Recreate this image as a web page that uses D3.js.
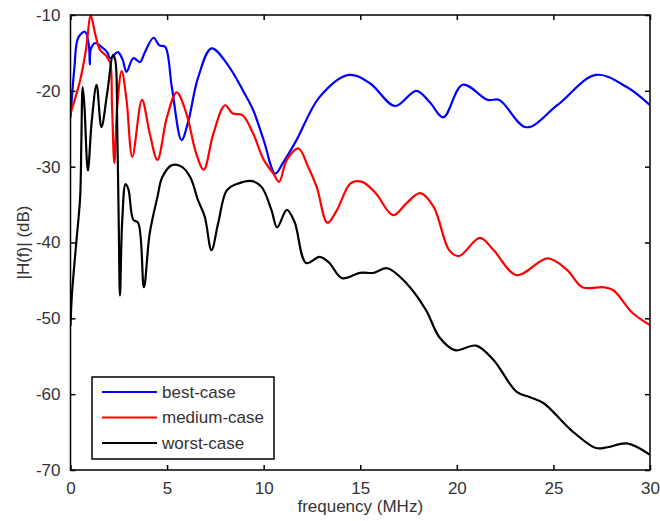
<!DOCTYPE html>
<meta charset="utf-8">
<style>
body {
  margin: 0;
  background: #fff;
}
text {
  font-family: "Liberation Sans", Arial, sans-serif;
  font-size: 17px;
  fill: #333;
}
.frame {
  fill: none;
  stroke: #000;
  stroke-width: 1.5;
}
.series {
  fill: none;
  stroke-width: 2.2;
  stroke-linejoin: round;
}
</style>
<body>
<script src="https://cdn.jsdelivr.net/npm/d3@7/dist/d3.min.js"></script>
<script>

var width = 660,
    height = 521;

// [frequency MHz, |H(f)| dB]
var bestCase = [
  [0, -23.5], [0.2, -17], [0.4, -13], [0.75, -12.2], [0.95, -14], [1.0, -16.5],
  [1.05, -14.5], [1.27, -13.7], [1.6, -14.2], [1.9, -14.9], [2.05, -15.7],
  [2.45, -14.9], [2.7, -15.9], [2.9, -17.5], [3.25, -15.7], [3.6, -16.2],
  [3.85, -14.9], [4.3, -13.0], [4.6, -14], [4.9, -14.2], [5.25, -19.6],
  [5.75, -26.5], [6.1, -24], [6.6, -18.3], [7.3, -14.4], [8.15, -16.6],
  [9.0, -20.3], [9.45, -22.5], [10.0, -26.5], [10.6, -30.9], [11.0, -29.5],
  [11.7, -26.5], [12.9, -20.8], [14.4, -17.9], [15.5, -19.0], [16.8, -22.0],
  [17.9, -20.0], [18.6, -21.5], [19.3, -23.5], [20.3, -19.2], [21.6, -21.2],
  [22.2, -21.2], [23.6, -24.8], [25.2, -21.9], [27.2, -17.9], [28.8, -19.5],
  [30, -21.9]
];

var mediumCase = [
  [0, -23], [0.5, -18.6], [0.8, -14.6], [1.05, -10.1], [1.27, -12.4],
  [1.53, -14.6], [1.85, -15.4], [2.05, -16.3], [2.15, -22], [2.27, -29.5],
  [2.42, -22], [2.65, -17.4], [2.9, -21.2], [3.2, -28.7], [3.7, -21.2],
  [4.1, -25.6], [4.5, -29.1], [5.0, -23.4], [5.5, -20.2], [6.0, -23],
  [6.5, -28.2], [6.9, -30.4], [7.4, -25.6], [8.0, -21.9], [8.4, -23],
  [8.9, -23.2], [9.45, -25.6], [10.0, -29.1], [10.5, -30.9], [10.8, -32],
  [11.2, -29.1], [11.8, -27.6], [12.3, -30], [12.75, -32.7], [13.3, -37.4],
  [13.8, -35.7], [14.5, -32.2], [15.1, -32], [15.8, -33.5], [16.7, -36.4],
  [17.4, -34.8], [18.1, -33.5], [18.8, -35.3], [19.6, -41], [20.1, -41.8],
  [21.2, -39.4], [21.9, -41], [23.1, -44.3], [24.7, -42.1], [25.7, -43.6],
  [26.5, -45.9], [27.6, -45.9], [28.1, -46.3], [29.1, -49.3], [30, -50.9]
];

var worstCase = [
  [0, -51], [0.07, -47], [0.3, -40], [0.5, -34], [0.56, -27], [0.63, -19.5],
  [0.72, -22], [0.9, -30.5], [1.1, -24], [1.35, -19.2], [1.6, -24.8],
  [1.9, -20.3], [2.2, -15.3], [2.32, -16], [2.42, -25], [2.5, -38],
  [2.56, -47], [2.68, -37], [2.85, -32.3], [3.0, -33], [3.25, -37],
  [3.5, -37.4], [3.8, -45.9], [4.1, -38.8], [4.5, -34], [4.75, -31.4],
  [5.25, -29.8], [5.75, -30], [6.2, -31.4], [6.6, -34.4], [6.95, -36.6],
  [7.3, -41], [7.65, -37.4], [8.1, -33.1], [8.7, -32.2], [9.4, -31.9],
  [9.9, -32.7], [10.4, -35.7], [10.7, -38], [11.2, -35.7], [11.6, -37.3],
  [12.2, -42.7], [12.9, -41.9], [13.4, -42.7], [14.05, -44.7], [15.0, -44],
  [15.7, -44], [16.4, -43.4], [17.4, -45.4], [18.4, -48.9], [19.1, -52.5],
  [19.9, -54.2], [21.0, -53.6], [21.9, -55.5], [23.1, -59.7], [23.8, -60.4],
  [24.5, -61.2], [25.9, -64.7], [27.2, -67.1], [27.8, -67], [28.8, -66.5],
  [30, -68]
];

var seriesNames = ["best-case", "medium-case", "worst-case"];
var seriesColors = ["#0000ff", "#ff0000", "#000000"];
var xTicks = [0, 5, 10, 15, 20, 25, 30];
var yTicks = [-10, -20, -30, -40, -50, -60, -70];

var x = d3.scaleLinear().domain([0, 30]).range([70.5, 650]);
var y = d3.scaleLinear().domain([-70, -10]).range([470, 15]);

// plain hyphen for negatives, like the original figure
var plain = function(d) { return String(d); };

var svg = d3.select("body").append("svg")
    .attr("width", width)
    .attr("height", height);

svg.append("clipPath")
    .attr("id", "plot-clip")
  .append("rect")
    .attr("x", x(0))
    .attr("y", y(-10))
    .attr("width", x(30) - x(0))
    .attr("height", y(-70) - y(-10));

var line = d3.line()
    .x(function(d) { return x(d[0]); })
    .y(function(d) { return y(d[1]); })
    .curve(d3.curveCatmullRom.alpha(0.5));

svg.append("g")
    .attr("clip-path", "url(#plot-clip)")
  .selectAll("path")
    .data([bestCase, mediumCase, worstCase])
  .enter().append("path")
    .attr("class", "series")
    .attr("stroke", function(d, i) { return seriesColors[i]; })
    .attr("d", line);

// box with inward ticks on all sides
var tick = 5;
svg.append("g")
    .attr("transform", "translate(0," + y(-70) + ")")
    .call(d3.axisBottom(x).tickValues(xTicks).tickFormat(plain).tickSize(-tick).tickPadding(12).tickSizeOuter(0));
svg.append("g")
    .attr("transform", "translate(0," + y(-10) + ")")
    .call(d3.axisTop(x).tickValues(xTicks).tickSize(-tick).tickFormat("").tickSizeOuter(0));
svg.append("g")
    .attr("transform", "translate(" + x(0) + ",0)")
    .call(d3.axisLeft(y).tickValues(yTicks).tickFormat(plain).tickSize(-tick).tickPadding(10).tickSizeOuter(0));
svg.append("g")
    .attr("transform", "translate(" + x(30) + ",0)")
    .call(d3.axisRight(y).tickValues(yTicks).tickSize(-tick).tickFormat("").tickSizeOuter(0));

svg.selectAll(".tick line").attr("stroke", "#000").attr("stroke-width", 1.5);
svg.selectAll(".domain").remove();
svg.selectAll(".tick text")
    .attr("font-family", null)
    .attr("font-size", null)
    .attr("fill", null);

svg.append("rect")
    .attr("class", "frame")
    .attr("x", x(0))
    .attr("y", y(-10))
    .attr("width", x(30) - x(0))
    .attr("height", y(-70) - y(-10));

svg.append("text")
    .attr("x", (x(0) + x(30)) / 2)
    .attr("y", 512)
    .attr("text-anchor", "middle")
    .text("frequency (MHz)");

svg.append("text")
    .attr("transform", "translate(29," + (y(-40)) + ") rotate(-90)")
    .attr("text-anchor", "middle")
    .text("|H(f)| (dB)");

// legend
var legend = svg.append("g");
legend.append("rect")
    .attr("x", 92)
    .attr("y", 377)
    .attr("width", 182)
    .attr("height", 82)
    .attr("fill", "#fff")
    .attr("stroke", "#000")
    .attr("stroke-width", 1.5);

var rows = legend.selectAll(".row")
    .data(seriesNames)
  .enter().append("g")
    .attr("class", "row")
    .attr("transform", function(d, i) { return "translate(0," + (392 + i * 25.5) + ")"; });

rows.append("line")
    .attr("x1", 102)
    .attr("x2", 157)
    .attr("stroke", function(d, i) { return seriesColors[i]; })
    .attr("stroke-width", 2.2);

rows.append("text")
    .attr("x", 162)
    .attr("dy", "0.35em")
    .text(function(d) { return d; });

</script>
</body>
